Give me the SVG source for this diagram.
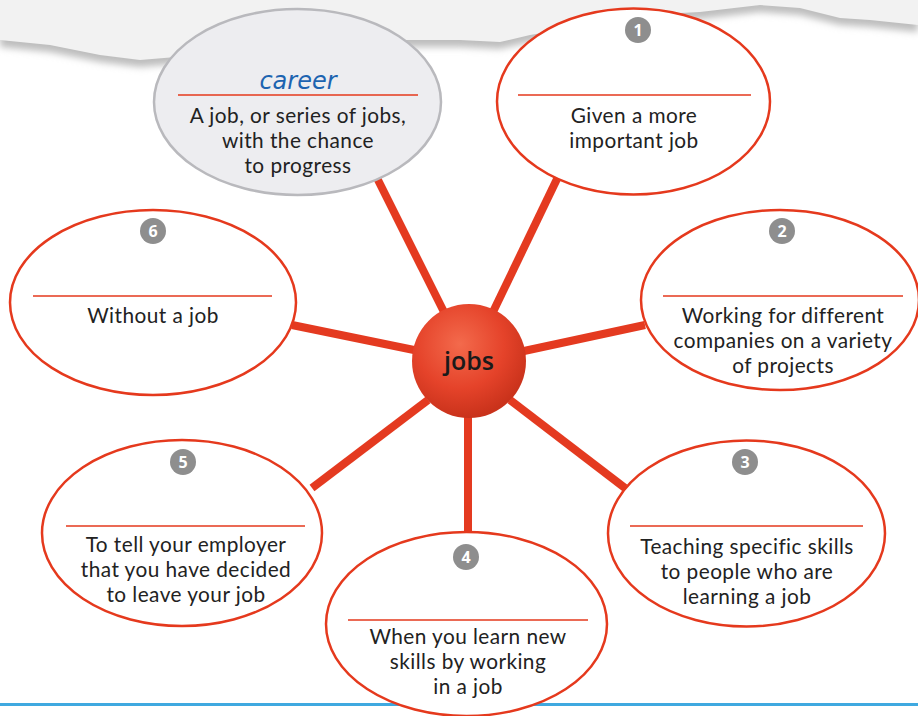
<svg xmlns="http://www.w3.org/2000/svg" width="918" height="716" viewBox="0 0 918 716">
<style>
.ell{fill:#fff;stroke:#e5391d;stroke-width:2.5}
.rule{stroke:#e5391d;stroke-width:1.6}
.t{font-family:Lato,"Open Sans",sans-serif;font-size:20.8px;letter-spacing:0.45px;fill:#222;text-anchor:middle}
.badge circle{fill:#8e8e8e}
.badge text{font-family:"Open Sans","DejaVu Sans",sans-serif;font-size:16px;font-weight:bold;fill:#fff;text-anchor:middle}
.con{stroke:#e43a20;stroke-width:8;stroke-linecap:butt}
</style>
<defs>
<filter id="blur" x="-5%" y="-50%" width="110%" height="200%"><feGaussianBlur stdDeviation="3.5"/></filter>
<radialGradient id="sph" cx="0.42" cy="0.35" r="0.65">
<stop offset="0" stop-color="#f36a4c"/>
<stop offset="0.6" stop-color="#e5432a"/>
<stop offset="1" stop-color="#c9321b"/>
</radialGradient>
</defs>
<rect width="918" height="716" fill="#fff"/>
<!-- torn paper -->
<g id="paper">
<path d="M0 0H918V32 L870 27 L840 25 L800 15 L760 12 L700 19 L640 22 L600 29 L560 37 L530 42 L500 49 L460 47 L400 47 L330 49 L250 55 L200 62 L140 67 L100 62 L50 52 L0 47Z" fill="#bdbdbd" filter="url(#blur)"/>
<path d="M0 0H918V25 L870 20 L840 18 L800 8 L760 5 L700 12 L640 15 L600 22 L560 30 L530 35 L500 42 L460 40 L400 40 L330 42 L250 48 L200 55 L140 60 L100 55 L50 45 L0 40Z" fill="#f2f2f2"/>
</g>
<!-- bottom blue line -->
<rect x="0" y="703" width="918" height="3" fill="#3fa9e0"/>
<g id="connectors">
<line class="con" x1="445" y1="314" x2="377" y2="178"/>
<line class="con" x1="492" y1="314" x2="557" y2="179"/>
<line class="con" x1="414" y1="350" x2="292" y2="325"/>
<line class="con" x1="524" y1="351" x2="645" y2="325"/>
<line class="con" x1="428" y1="400" x2="312" y2="488"/>
<line class="con" x1="510" y1="400" x2="625" y2="488"/>
<line class="con" x1="468" y1="415" x2="468" y2="535"/>
</g>
<g id="career">
<ellipse cx="297.5" cy="102" rx="143.5" ry="93" fill="#ededf0" stroke="#b9b9bd" stroke-width="2.5"/>
<line class="rule" x1="178" y1="95" x2="418" y2="95"/>
<text x="298" y="89" font-family="'DejaVu Sans',sans-serif" font-style="italic" font-size="24" fill="#1d64b0" text-anchor="middle">career</text>
<text class="t" x="298" y="123">A job, or series of jobs,</text>
<text class="t" x="298" y="148">with the chance</text>
<text class="t" x="298" y="173">to progress</text>
</g>
<g id="node1">
<ellipse class="ell" cx="633.5" cy="101.5" rx="136.5" ry="93"/>
<g class="badge"><circle cx="638" cy="30" r="13"/><text x="638" y="36">1</text></g>
<line class="rule" x1="518" y1="95" x2="751" y2="95"/>
<text class="t" x="634" y="123">Given a more</text>
<text class="t" x="634" y="148">important job</text>
</g>
<g id="node2">
<ellipse class="ell" cx="780" cy="300" rx="139" ry="90"/>
<g class="badge"><circle cx="782" cy="231" r="13"/><text x="782" y="237">2</text></g>
<line class="rule" x1="663" y1="296" x2="903" y2="296"/>
<text class="t" x="783" y="323">Working for different</text>
<text class="t" x="783" y="348">companies on a variety</text>
<text class="t" x="783" y="373">of projects</text>
</g>
<g id="node3">
<ellipse class="ell" cx="746.5" cy="533.5" rx="138.5" ry="93"/>
<g class="badge"><circle cx="745" cy="462" r="13"/><text x="745" y="468">3</text></g>
<line class="rule" x1="630" y1="526" x2="863" y2="526"/>
<text class="t" x="747" y="554">Teaching specific skills</text>
<text class="t" x="747" y="579">to people who are</text>
<text class="t" x="747" y="604">learning a job</text>
</g>
<g id="node4">
<ellipse class="ell" cx="466.5" cy="624" rx="140.5" ry="92"/>
<g class="badge"><circle cx="466" cy="557" r="13"/><text x="466" y="563">4</text></g>
<line class="rule" x1="348" y1="620" x2="588" y2="620"/>
<text class="t" x="468" y="644">When you learn new</text>
<text class="t" x="468" y="669">skills by working</text>
<text class="t" x="468" y="694">in a job</text>
</g>
<g id="node5">
<ellipse class="ell" cx="182" cy="533" rx="140" ry="93"/>
<g class="badge"><circle cx="183" cy="462" r="13"/><text x="183" y="468">5</text></g>
<line class="rule" x1="66" y1="526" x2="305" y2="526"/>
<text class="t" x="186" y="552">To tell your employer</text>
<text class="t" x="186" y="577">that you have decided</text>
<text class="t" x="186" y="602">to leave your job</text>
</g>
<g id="node6">
<ellipse class="ell" cx="153" cy="302.5" rx="143" ry="92.5"/>
<g class="badge"><circle cx="153" cy="231" r="13"/><text x="153" y="237">6</text></g>
<line class="rule" x1="33" y1="296" x2="272" y2="296"/>
<text class="t" x="153" y="323">Without a job</text>
</g>
<g id="jobs">
<circle cx="469" cy="361" r="57" fill="url(#sph)"/>
<text x="469" y="370" font-family="'Open Sans','Noto Sans',sans-serif" font-size="25" font-weight="600" fill="#1a1a1a" text-anchor="middle">jobs</text>
</g>
</svg>
